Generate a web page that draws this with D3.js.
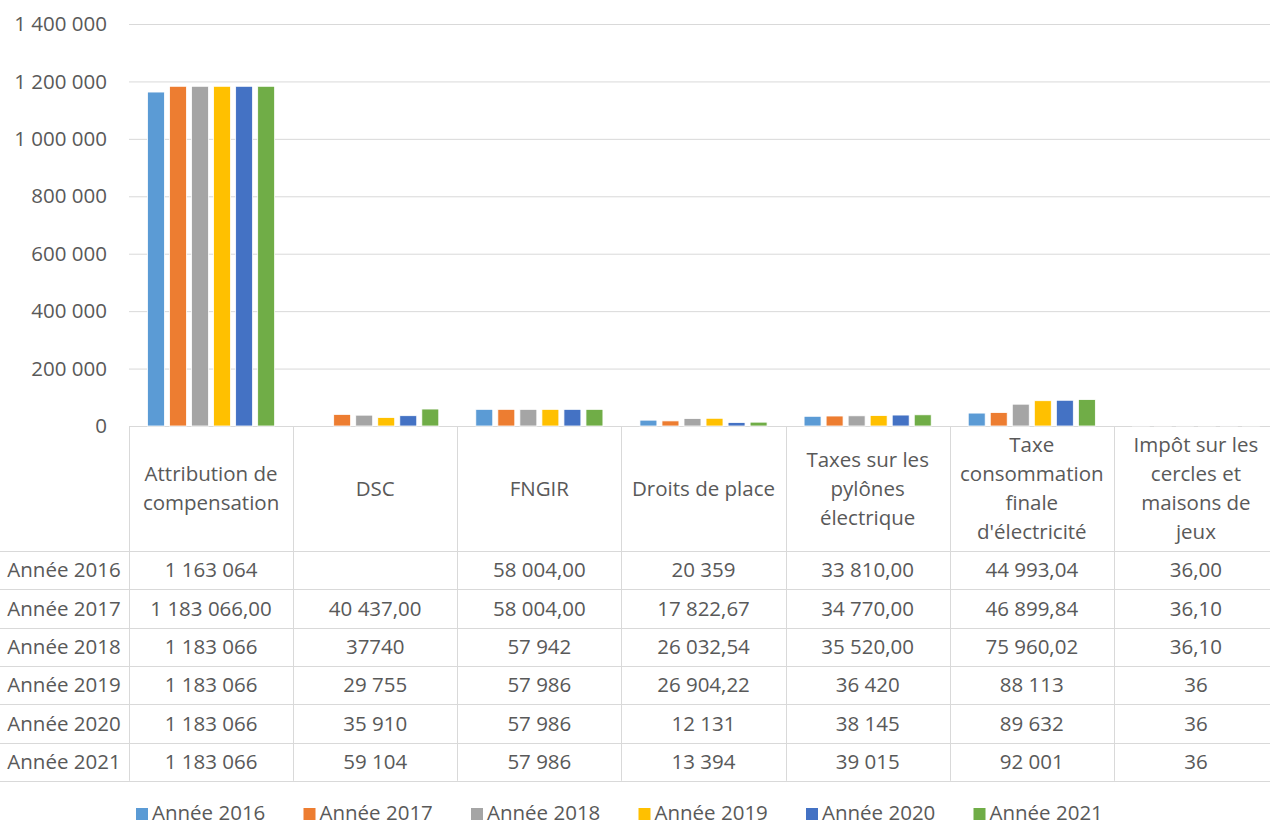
<!DOCTYPE html>
<html>
<head>
<meta charset="utf-8">
<script src="https://cdn.jsdelivr.net/npm/d3@7"></script>
<style>
  body { margin: 0; background: #fff; overflow: hidden; }
  svg text { font-family: "Open Sans", sans-serif; fill: #595959; }
</style>
</head>
<body>
<div id="chart"></div>
<script>
// categories (header lines of the data table)
var categories = [
    ["Attribution de", "compensation"],
    ["DSC"],
    ["FNGIR"],
    ["Droits de place"],
    ["Taxes sur les", "pylônes", "électrique"],
    ["Taxe", "consommation", "finale", "d'électricité"],
    ["Impôt sur les", "cercles et", "maisons de", "jeux"]
];
var years = ["Année 2016", "Année 2017", "Année 2018", "Année 2019", "Année 2020", "Année 2021"];
var colors = ["#5B9BD5", "#ED7D31", "#A5A5A5", "#FFC000", "#4472C4", "#70AD47"];

// values per year (null = empty cell)
var v2016 = [1163064, null, 58004, 20359, 33810, 44993.04, 36];
var v2017 = [1183066, 40437, 58004, 17822.67, 34770, 46899.84, 36.1];
var v2018 = [1183066, 37740, 57942, 26032.54, 35520, 75960.02, 36.1];
var v2019 = [1183066, 29755, 57986, 26904.22, 36420, 88113, 36];
var v2020 = [1183066, 35910, 57986, 12131, 38145, 89632, 36];
var v2021 = [1183066, 59104, 57986, 13394, 39015, 92001, 36];
var series = [v2016, v2017, v2018, v2019, v2020, v2021];

// table cell text as shown
var t2016 = ["1 163 064", "", "58 004,00", "20 359", "33 810,00", "44 993,04", "36,00"];
var t2017 = ["1 183 066,00", "40 437,00", "58 004,00", "17 822,67", "34 770,00", "46 899,84", "36,10"];
var t2018 = ["1 183 066", "37740", "57 942", "26 032,54", "35 520,00", "75 960,02", "36,10"];
var t2019 = ["1 183 066", "29 755", "57 986", "26 904,22", "36 420", "88 113", "36"];
var t2020 = ["1 183 066", "35 910", "57 986", "12 131", "38 145", "89 632", "36"];
var t2021 = ["1 183 066", "59 104", "57 986", "13 394", "39 015", "92 001", "36"];
var tableText = [t2016, t2017, t2018, t2019, t2020, t2021];

var yTicks = [0, 200000, 400000, 600000, 800000, 1000000, 1200000, 1400000];

var width = 1270, height = 825;
var fontSize = 20.5;
var grid = "#d9d9d9";

var svg = d3.select("#chart").append("svg")
    .attr("width", width)
    .attr("height", height);

// the last column runs a little past the right edge, like the original
var x = d3.scaleBand().domain(d3.range(categories.length)).range([129, 1278]);
var xInner = d3.scaleBand().domain(d3.range(years.length))
    .range([0, x.bandwidth()])
    .paddingInner(0.23)
    .paddingOuter(0.84);
var y = d3.scaleLinear().domain([0, 1400000]).range([426, 24]);

// french style thousand separators
var fmt = function(d) { return d3.format(",")(d).replace(/,/g, " "); };

// gridlines
svg.append("g").selectAll("line").data(yTicks).enter().append("line")
    .attr("x1", 129).attr("x2", width)
    .attr("y1", function(d) { return y(d) + 0.5; })
    .attr("y2", function(d) { return y(d) + 0.5; })
    .attr("stroke", grid).attr("stroke-width", 1);

// y tick labels
svg.append("g").selectAll("text").data(yTicks).enter().append("text")
    .attr("x", 107)
    .attr("y", function(d) { return y(d); })
    .attr("dy", "0.35em")
    .attr("text-anchor", "end")
    .style("font-size", fontSize + "px")
    .text(fmt);

// bars
series.forEach(function(vals, si) {
    svg.append("g").selectAll("rect")
        .data(vals.map(function(v, ci) { return {ci: ci, v: v}; }).filter(function(d) { return d.v != null; }))
        .enter().append("rect")
        .attr("x", function(d) { return x(d.ci) + xInner(si); })
        .attr("y", function(d) { return y(d.v); })
        .attr("width", xInner.bandwidth())
        .attr("height", function(d) { return y(0) - y(d.v); })
        .attr("fill", colors[si])
        .attr("stroke", "#fff")
        .attr("stroke-width", 0.8);
});

// data table
var headerBottom = 551, rowH = 38.3;
var tableBottom = headerBottom + rowH * years.length;
var tbl = svg.append("g");

// vertical lines
tbl.selectAll("line.v").data(d3.range(categories.length)).enter().append("line")
    .attr("class", "v")
    .attr("x1", function(i) { return Math.round(x(i)) + 0.5; })
    .attr("x2", function(i) { return Math.round(x(i)) + 0.5; })
    .attr("y1", y(0)).attr("y2", tableBottom)
    .attr("stroke", grid);

// horizontal lines
tbl.selectAll("line.h").data(d3.range(years.length + 1)).enter().append("line")
    .attr("class", "h")
    .attr("x1", 0).attr("x2", width)
    .attr("y1", function(i) { return Math.round(headerBottom + i * rowH) + 0.5; })
    .attr("y2", function(i) { return Math.round(headerBottom + i * rowH) + 0.5; })
    .attr("stroke", grid);

// header labels
var lineH = 29;
categories.forEach(function(lines, ci) {
    var cy = (y(0) + headerBottom) / 2;
    var t = tbl.append("text")
        .attr("text-anchor", "middle")
        .style("font-size", fontSize + "px");
    lines.forEach(function(l, li) {
        t.append("tspan")
            .attr("x", x(ci) + x.bandwidth() / 2)
            .attr("y", cy + (li - (lines.length - 1) / 2) * lineH)
            .attr("dy", "0.35em")
            .text(l);
    });
});

// row labels and cells
years.forEach(function(yr, ri) {
    var cy = headerBottom + ri * rowH + rowH / 2;
    tbl.append("text")
        .attr("x", 64).attr("y", cy).attr("dy", "0.35em")
        .attr("text-anchor", "middle")
        .style("font-size", fontSize + "px")
        .text(yr);
    tbl.append("g").selectAll("text").data(tableText[ri]).enter().append("text")
        .attr("x", function(d, ci) { return x(ci) + x.bandwidth() / 2; })
        .attr("y", cy).attr("dy", "0.35em")
        .attr("text-anchor", "middle")
        .style("font-size", fontSize + "px")
        .text(function(d) { return d; });
});

// legend
var legend = svg.append("g");
var legStep = 167.5, legX0 = 136, legY = 813;
years.forEach(function(yr, i) {
    legend.append("rect")
        .attr("x", legX0 + i * legStep).attr("y", legY - 5)
        .attr("width", 12).attr("height", 12)
        .attr("fill", colors[i]);
    legend.append("text")
        .attr("x", legX0 + i * legStep + 16).attr("y", legY)
        .attr("dy", "0.35em")
        .style("font-size", fontSize + "px")
        .text(yr);
});
</script>
</body>
</html>
